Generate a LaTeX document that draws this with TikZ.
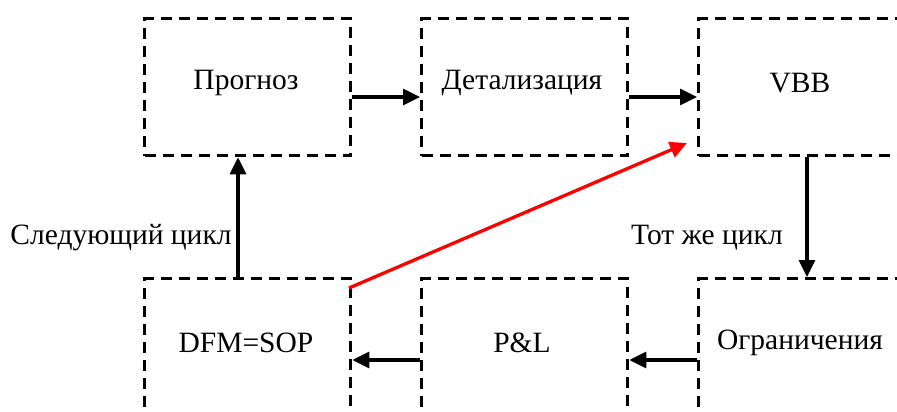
\documentclass[tikz,border=0pt]{standalone}
\usepackage{fontspec}
\setmainfont{Liberation Serif}
\usetikzlibrary{arrows.meta}
\begin{document}
\begin{tikzpicture}[x=1pt,y=-1pt,
  blk/.style={draw, line width=3.3pt, dash pattern=on 11pt off 7pt, minimum width=206pt, minimum height=137pt, inner sep=0pt, anchor=north west},
  lbl/.style={font=\fontsize{29.5}{34}\selectfont},
  conn/.style={line width=3.3pt, -{Triangle[length=17pt,width=16pt]}},
  redconn/.style={conn, red}]
\useasboundingbox (0,0) rectangle (897,412);
\begin{scope}
\clip (0,0) rectangle (897,412);
\node[blk] (b1) at (143,17) {};
\node[blk] (b2) at (420,17) {};
\node[blk] (b3) at (697,17) {};
\node[blk] (b4) at (143,277) {};
\node[blk] (b5) at (420,277) {};
\node[blk] (b6) at (697,277) {};
\end{scope}
\node[lbl] (t1) at (246,83) {Прогноз};
\node[lbl] (t2) at (522,83) {Детализация};
\node[lbl] (t3) at (800,83) {VBB};
\node[lbl] (t4) at (246,343) {DFM=SOP};
\node[lbl] (t5) at (522,343) {P\&L};
\node[lbl] (t6) at (800,343) {Ограничения};
\node[lbl] (l1) at (121,238) {Следующий цикл};
\node[lbl] (l2) at (707,238) {Тот же цикл};
\draw[conn] (b1.north east |- 0,97) -- (b2.north west |- 0,97);
\draw[conn] (b2.north east |- 0,97) -- (b3.north west |- 0,97);
\draw[conn] (b3.south west -| 807,0) -- (b6.north west -| 807,0);
\draw[conn] (b6.north west |- 0,360) -- (b5.north east |- 0,360);
\draw[conn] (b5.north west |- 0,360) -- (b4.north east |- 0,360);
\draw[conn] (b4.north west -| 238,0) -- (b1.south west -| 238,0);
\coordinate (rs) at (349,288);
\coordinate (re) at (687,143);
\draw[redconn] (rs) -- (re);
\end{tikzpicture}
\end{document}
